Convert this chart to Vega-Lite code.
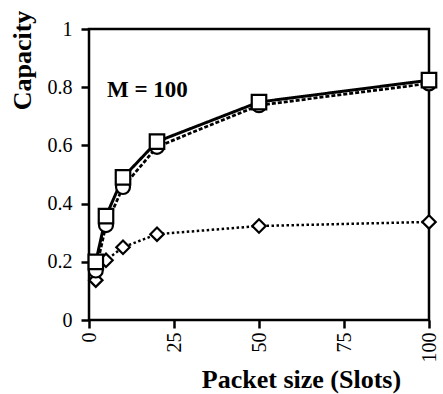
{
  "$schema": "https://vega.github.io/schema/vega-lite/v6.json",
  "width": 340,
  "height": 291,
  "autosize": "none",
  "padding": {"left": 89, "top": 29, "right": 14, "bottom": 74},
  "background": "white",
  "config": {
    "view": {"stroke": "black", "strokeWidth": 2.5},
    "font": "Liberation Serif",
    "axis": {
      "grid": false,
      "domain": false,
      "tickColor": "black",
      "tickWidth": 2.5,
      "tickSize": 8,
      "labelFont": "Liberation Serif",
      "labelFontSize": 20,
      "labelColor": "black",
      "titleFont": "Liberation Serif",
      "titleFontWeight": "bold",
      "titleFontSize": 26,
      "titleColor": "black"
    }
  },
  "data": {
    "values": [
      {"series": "diamond", "x": 2, "y": 0.137},
      {"series": "diamond", "x": 5, "y": 0.205},
      {"series": "diamond", "x": 10, "y": 0.25},
      {"series": "diamond", "x": 20, "y": 0.295},
      {"series": "diamond", "x": 50, "y": 0.323},
      {"series": "diamond", "x": 100, "y": 0.337},
      {"series": "circle", "x": 2, "y": 0.17},
      {"series": "circle", "x": 5, "y": 0.326},
      {"series": "circle", "x": 10, "y": 0.457},
      {"series": "circle", "x": 20, "y": 0.595},
      {"series": "circle", "x": 50, "y": 0.738},
      {"series": "circle", "x": 100, "y": 0.813},
      {"series": "square", "x": 2, "y": 0.2},
      {"series": "square", "x": 5, "y": 0.357},
      {"series": "square", "x": 10, "y": 0.49},
      {"series": "square", "x": 20, "y": 0.613},
      {"series": "square", "x": 50, "y": 0.749},
      {"series": "square", "x": 100, "y": 0.824}
    ]
  },
  "encoding": {
    "x": {
      "field": "x", "type": "quantitative",
      "scale": {"domain": [0, 100], "nice": false},
      "axis": {"values": [0, 25, 50, 75, 100], "labelAngle": -90, "labelPadding": 4,
               "title": "Packet size (Slots)", "titleX": 212, "titleAlign": "center", "titleY": 67, "titleBaseline": "alphabetic"}
    },
    "y": {
      "field": "y", "type": "quantitative",
      "scale": {"domain": [0, 1], "nice": false},
      "axis": {"values": [0, 0.2, 0.4, 0.6, 0.8, 1], "format": "~g", "labelPadding": 9,
               "title": "Capacity", "titleAngle": -90, "titleX": -59, "titleY": 31, "titleAlign": "center", "titleBaseline": "alphabetic"}
    }
  },
  "layer": [
    {
      "mark": {"type": "line", "color": "black"},
      "encoding": {
        "detail": {"field": "series"},
        "strokeDash": {"field": "series", "type": "nominal", "legend": null,
          "scale": {"domain": ["square", "circle", "diamond"], "range": [[1, 0], [4, 2], [2.5, 2.5]]}},
        "strokeWidth": {"field": "series", "type": "nominal", "legend": null,
          "scale": {"domain": ["square", "circle", "diamond"], "range": [3, 2.5, 2.2]}}
      }
    },
    {
      "mark": {"type": "point", "filled": false, "fill": "white", "fillOpacity": 1, "stroke": "black", "strokeWidth": 2.2, "opacity": 1},
      "encoding": {
        "shape": {"field": "series", "type": "nominal", "legend": null,
          "scale": {"domain": ["square", "circle", "diamond"], "range": ["square", "circle", "diamond"]}},
        "size": {"field": "series", "type": "nominal", "legend": null,
          "scale": {"domain": ["square", "circle", "diamond"], "range": [210, 180, 160]}}
      }
    },
    {
      "data": {"values": [{"label": "M = 100", "x": 5.3, "y": 0.79}]},
      "mark": {"type": "text", "align": "left", "baseline": "middle", "font": "Liberation Serif", "fontWeight": "bold", "fontSize": 23, "color": "black"},
      "encoding": {"text": {"field": "label"}}
    }
  ]
}
